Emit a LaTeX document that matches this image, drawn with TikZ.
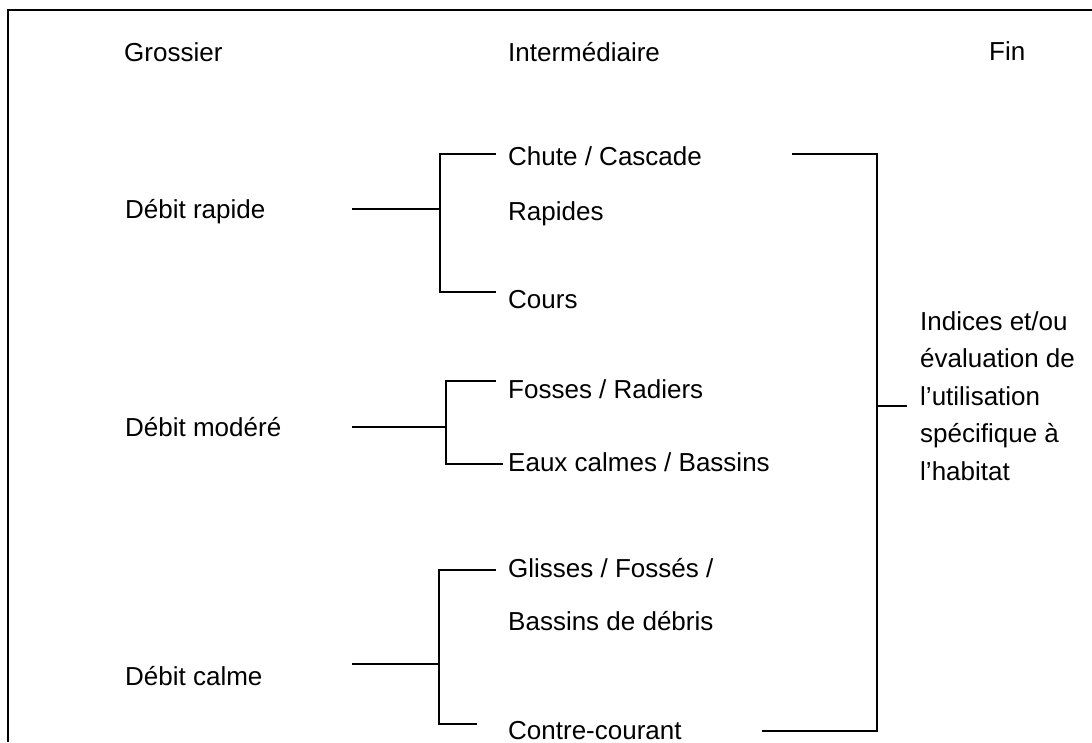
\documentclass[tikz,border=0pt]{standalone}
\usepackage{fontspec}
\setmainfont{Liberation Sans}
\begin{document}
\begin{tikzpicture}[x=1pt,y=-1pt,
  lbl/.style={anchor=base west,inner sep=0pt,font=\fontsize{26}{37.5}\selectfont},
  conn/.style={line width=1.8pt},
  frame/.style={line width=2.6pt}]
\useasboundingbox (0,0) rectangle (1092,742);
\draw[frame] (8,742) -- (8,10) -- (1092,10);
% headers
\node[lbl] (gro) at (124,61) {Grossier};
\node[lbl] (int) at (508,61) {Intermédiaire};
\node[lbl] (fin) at (989,60) {Fin};
% coarse
\node[lbl] (dr) at (125,218) {Débit rapide};
\node[lbl] (dm) at (125,436) {Débit modéré};
\node[lbl] (dc) at (125,685) {Débit calme};
% intermediate
\node[lbl] (chute) at (508,165) {Chute / Cascade};
\node[lbl] (rap) at (508,220) {Rapides};
\node[lbl] (cours) at (508,308) {Cours};
\node[lbl] (fos) at (508,398) {Fosses / Radiers};
\node[lbl] (eaux) at (508,471) {Eaux calmes / Bassins};
\node[lbl] (gli) at (508,577) {Glisses / Fossés /};
\node[lbl] (bas) at (508,630) {Bassins de débris};
\node[lbl] (cc) at (508,739) {Contre-courant};
% fine
\node[lbl] (ind) at (920,330) {\begin{tabular}[t]{@{}l@{}}Indices et/ou\\évaluation de\\l’utilisation\\spécifique à\\l’habitat\end{tabular}};
% connector points
\coordinate (drA) at (352,209); \coordinate (drJ) at (440,209);
\coordinate (drT) at (440,154); \coordinate (drB) at (440,292);
\coordinate (chL) at (496,154); \coordinate (coL) at (496,292);
\coordinate (dmA) at (352,427); \coordinate (dmJ) at (446,427);
\coordinate (dmT) at (446,381); \coordinate (dmB) at (446,464);
\coordinate (foL) at (496,381); \coordinate (eaL) at (503,464);
\coordinate (dcA) at (352,664); \coordinate (dcJ) at (439,664);
\coordinate (dcT) at (439,570); \coordinate (dcB) at (439,724);
\coordinate (glL) at (496,570); \coordinate (ccL) at (477,724);
\coordinate (chR) at (792,154); \coordinate (ccR) at (762,731);
\coordinate (rT) at (877,154); \coordinate (rB) at (877,731);
\coordinate (rM) at (877,406); \coordinate (indL) at (907,406);
% connectors
\draw[conn] (drA) -- (drJ);
\draw[conn] (chL) -- (drT) -- (drB) -- (coL);
\draw[conn] (dmA) -- (dmJ);
\draw[conn] (foL) -- (dmT) -- (dmB) -- (eaL);
\draw[conn] (dcA) -- (dcJ);
\draw[conn] (glL) -- (dcT) -- (dcB) -- (ccL);
\draw[conn] (chR) -- (rT) -- (rB) -- (ccR);
\draw[conn] (rM) -- (indL);
\end{tikzpicture}
\end{document}
